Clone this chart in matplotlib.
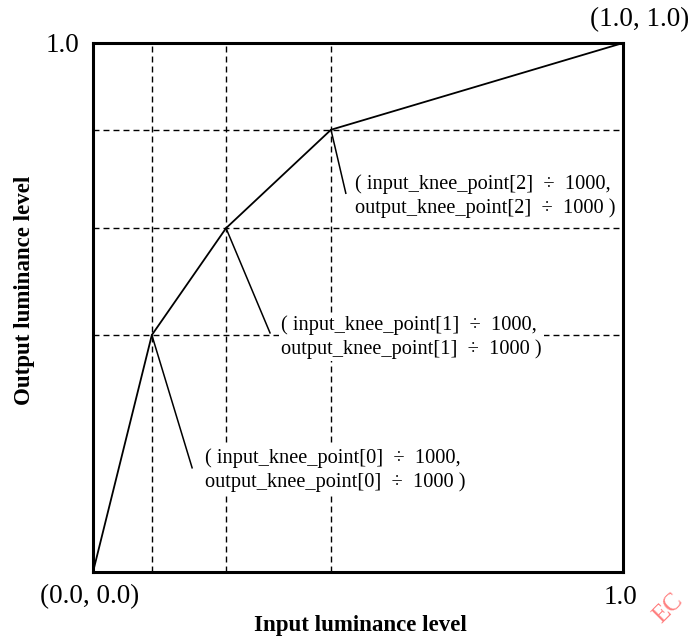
import matplotlib.pyplot as plt

plt.rcParams['font.family'] = ['Liberation Serif', 'DejaVu Serif']

# Knee points (normalised input / output luminance)
input_knee = [0.111, 0.251, 0.449]
output_knee = [0.448, 0.650, 0.836]
curve_x = [0.0] + input_knee + [1.0]
curve_y = [0.0] + output_knee + [1.0]

# Leader-line offsets and label anchors for each knee point
leader_dx = [0.076, 0.083, 0.028]
leader_dy = [-0.251, -0.198, -0.120]
label_dx = [0.100, 0.104, 0.045]
label_dy = [-0.255, -0.206, -0.125]

fig = plt.figure(figsize=(6.91, 6.38), dpi=100)
ax = fig.add_axes([0.1346, 0.1034, 0.767, 0.8292])
ax.set_xlim(0, 1)
ax.set_ylim(0, 1)
ax.set_xticks([])
ax.set_yticks([])
for s in ax.spines.values():
    s.set_linewidth(2.2)

dash = (0, (4.3, 2.9))
for x, y in zip(input_knee, output_knee):
    ax.axvline(x, color='black', lw=1.0, linestyle=dash, zorder=1)
    ax.axhline(y, color='black', lw=1.0, linestyle=dash, zorder=1)

ax.plot(curve_x, curve_y, color='black', lw=1.3, zorder=3)

for i, (x, y) in enumerate(zip(input_knee, output_knee)):
    ax.plot([x, x + leader_dx[i]], [y, y + leader_dy[i]], color='black', lw=1.1, zorder=3)
    ax.text(x + label_dx[i], y + label_dy[i],
            f'( input_knee_point[{i}]  ÷  1000,\noutput_knee_point[{i}]  ÷  1000 )',
            fontsize=14.7, ha='left', va='center', linespacing=1.3, zorder=4,
            bbox=dict(facecolor='white', edgecolor='none', pad=1.5))

# corner labels
fig.text(62 / 691, 1 - 45 / 638, '1.0', fontsize=19.5, ha='center', va='center')
fig.text(90 / 691, 1 - 597 / 638, '(0.0, 0.0)', fontsize=19.5, ha='center', va='center')
fig.text(620 / 691, 1 - 597 / 638, '1.0', fontsize=19.5, ha='center', va='center')
fig.text(689 / 691, 1 - 20 / 638, '(1.0, 1.0)', fontsize=19.5, ha='right', va='center')

fig.text(360 / 691, 1 - 625 / 638, 'Input luminance level', fontsize=16.5,
         fontweight='bold', ha='center', va='center')
fig.text(25 / 691, 1 - 290 / 638, 'Output luminance level', fontsize=16.5,
         fontweight='bold', ha='center', va='center', rotation=90)

# faint watermark fragment in the corner
fig.text(668 / 691, 1 - 608 / 638, 'EC', fontsize=18, color='#ff6060', alpha=0.8,
         rotation=45, ha='center', va='center')

fig.savefig('out.png', dpi=100)
